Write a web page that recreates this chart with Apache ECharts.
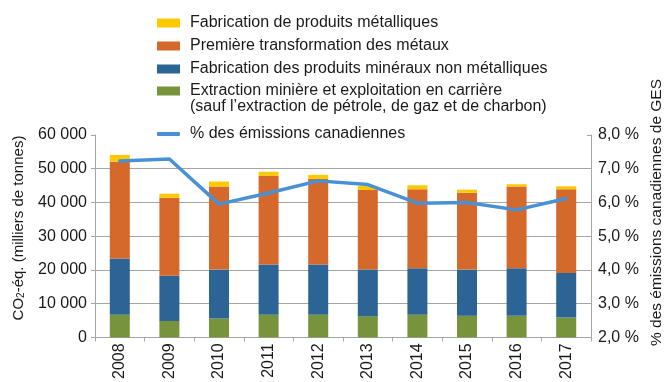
<!DOCTYPE html>
<html>
<head>
<meta charset="utf-8">
<script src="https://cdn.jsdelivr.net/npm/echarts@6/dist/echarts.min.js"></script>
<style>
  html, body { margin: 0; padding: 0; background: #ffffff; }
  #chart { width: 664px; height: 382px; }
</style>
</head>
<body>
<div id="chart"></div>
<script>
// Years on the category axis
const years = ['2008', '2009', '2010', '2011', '2012', '2013', '2014', '2015', '2016', '2017'];

// Emissions by sub-sector, kt CO2-eq.
const metalProducts = [2000, 1200, 1500, 1200, 1200, 1200, 1200, 900, 700, 900];
const primaryMetals = [28700, 23100, 24600, 26300, 25400, 23600, 23400, 22800, 24200, 24800];
const nonMetallicMinerals = [16700, 13400, 14500, 14900, 14900, 13800, 13800, 13700, 14100, 13200];
const mining = [6700, 4900, 5600, 6700, 6700, 6300, 6700, 6400, 6400, 5900];

// Share of national emissions, %
const shareOfCanada = [7.23, 7.29, 5.95, 6.28, 6.64, 6.53, 5.98, 6.0, 5.78, 6.12];

// Series names (legend text)
const nameMetalProducts = 'Fabrication de produits métalliques';
const namePrimaryMetals = 'Première transformation des métaux';
const nameMinerals = 'Fabrication des produits minéraux non métalliques';
const nameMining = 'Extraction minière et exploitation en carrière';
const nameMiningNote = '(sauf l\u2019extraction de pétrole, de gaz et de charbon)';
const nameShare = '% des émissions canadiennes';

const FONT = '"Liberation Sans", Arial, Helvetica, sans-serif';
const TEXT = '#1a1a1a';
const GRID = '#a6a6a6';

const colors = {
  metal: '#ffc800',
  primary: '#d4692b',
  minerals: '#2d6496',
  mining: '#77933c',
  share: '#4a90d4'
};

function barLegend(name, top) {
  return {
    data: [name],
    left: 157,
    top: top,
    padding: 0,
    icon: 'rect',
    itemWidth: 23,
    itemHeight: 9,
    selectedMode: false,
    textStyle: { fontFamily: FONT, fontSize: 16, color: TEXT, lineHeight: 18, padding: [0, 0, 0, 5] }
  };
}

const chart = echarts.init(document.getElementById('chart'), null, { renderer: 'canvas' });

chart.setOption({
  animation: false,
  textStyle: { fontFamily: FONT },
  grid: { left: 95, right: 73, top: 135, bottom: 40, containLabel: false },
  legend: [
    barLegend(nameMetalProducts, 14),
    barLegend(namePrimaryMetals, 37),
    barLegend(nameMinerals, 60),
    barLegend(nameMining, 82),
    {
      data: [nameShare],
      left: 157,
      top: 125,
      padding: 0,
      icon: 'roundRect',
      itemWidth: 23,
      itemHeight: 4,
      selectedMode: false,
      textStyle: { fontFamily: FONT, fontSize: 16, color: TEXT, lineHeight: 18, padding: [0, 0, 0, 5] }
    }
  ],
  graphic: [
    {
      type: 'text',
      left: 190,
      top: 99,
      style: { text: nameMiningNote, font: '16px ' + FONT, fill: TEXT }
    },
    {
      type: 'text',
      x: 18.5,
      y: 228,
      rotation: Math.PI / 2,
      style: {
        text: 'CO{sub|2}-éq. (milliers de tonnes)',
        font: '15px ' + FONT,
        fill: TEXT,
        align: 'center',
        verticalAlign: 'middle',
        rich: { sub: { fontSize: 10, fontFamily: FONT, fill: TEXT, verticalAlign: 'bottom' } }
      }
    },
    {
      type: 'text',
      x: 656.5,
      y: 212.5,
      rotation: Math.PI / 2,
      style: {
        text: '% des émissions canadiennes de GES',
        font: '15.5px ' + FONT,
        fill: TEXT,
        align: 'center',
        verticalAlign: 'middle'
      }
    }
  ],
  xAxis: {
    type: 'category',
    data: years,
    axisLine: { lineStyle: { color: GRID, width: 1 } },
    axisTick: { show: true, length: 4, lineStyle: { color: GRID } },
    axisLabel: { rotate: 90, margin: 6, fontSize: 16, color: TEXT, fontFamily: FONT }
  },
  yAxis: [
    {
      type: 'value',
      min: 0,
      max: 60000,
      interval: 10000,
      axisLine: { show: true, lineStyle: { color: GRID } },
      axisTick: { show: true, length: 4, lineStyle: { color: GRID } },
      splitLine: { show: true, showMaxLine: false, lineStyle: { color: GRID, width: 1 } },
      axisLabel: {
        margin: 8,
        fontSize: 16,
        color: TEXT,
        fontFamily: FONT,
        formatter: v => String(v).replace(/\B(?=(\d{3})+(?!\d))/g, ' ')
      }
    },
    {
      type: 'value',
      position: 'right',
      min: 2,
      max: 8,
      interval: 1,
      axisLine: { show: true, lineStyle: { color: GRID } },
      axisTick: { show: true, inside: true, length: 4, lineStyle: { color: GRID } },
      splitLine: { show: false },
      axisLabel: {
        margin: 7,
        fontSize: 16,
        color: TEXT,
        fontFamily: FONT,
        formatter: v => v.toFixed(1).replace('.', ',') + ' %'
      }
    }
  ],
  series: [
    {
      name: nameMining, type: 'bar', stack: 'total', barWidth: 20,
      data: mining, itemStyle: { color: colors.mining }
    },
    {
      name: nameMinerals, type: 'bar', stack: 'total', barWidth: 20,
      data: nonMetallicMinerals, itemStyle: { color: colors.minerals }
    },
    {
      name: namePrimaryMetals, type: 'bar', stack: 'total', barWidth: 20,
      data: primaryMetals, itemStyle: { color: colors.primary }
    },
    {
      name: nameMetalProducts, type: 'bar', stack: 'total', barWidth: 20,
      data: metalProducts, itemStyle: { color: colors.metal }
    },
    {
      name: nameShare, type: 'line', yAxisIndex: 1,
      data: shareOfCanada,
      showSymbol: false, symbol: 'none',
      lineStyle: { color: colors.share, width: 3.5, cap: 'round', join: 'round' },
      itemStyle: { color: colors.share },
      z: 5
    }
  ]
});
</script>
</body>
</html>
